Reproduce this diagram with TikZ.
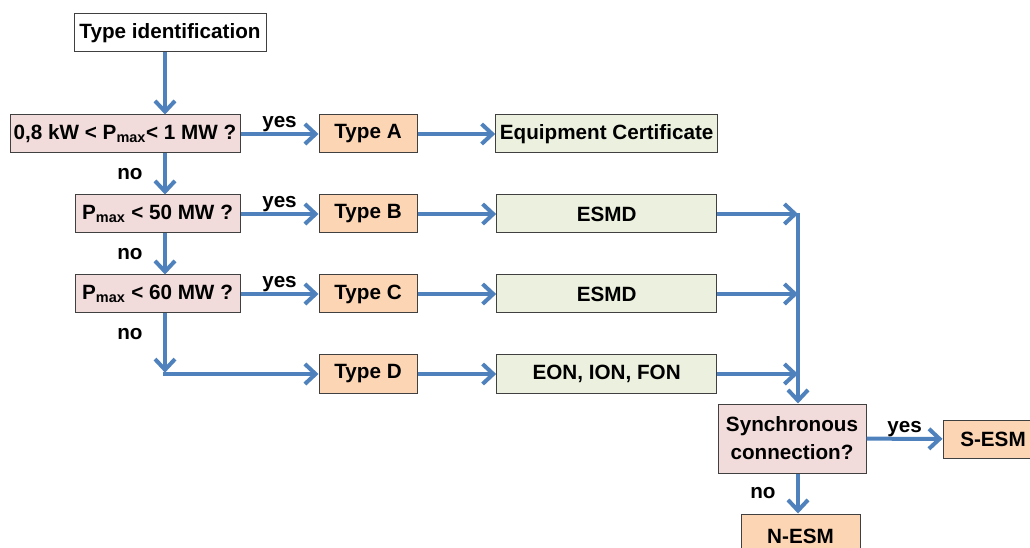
\documentclass[tikz,border=0pt]{standalone}
\usepackage{fontspec}
\setmainfont{Liberation Sans}
\usetikzlibrary{shapes,arrows,arrows.meta}
\usetikzlibrary{positioning}
\definecolor{flowblue}{RGB}{79,129,189}
\definecolor{askpink}{RGB}{242,220,219}
\definecolor{typeorange}{RGB}{252,213,181}
\definecolor{docgreen}{RGB}{235,241,222}
\tikzstyle{box} = [rectangle, draw=black!75, line width=0.75pt, text centered,
    minimum height=28.5pt, inner sep=2pt, font=\fontsize{15.5}{21}\selectfont\bfseries]
\tikzstyle{ask} = [box, fill=askpink]
\tikzstyle{kind} = [box, fill=typeorange, minimum width=73.5pt]
\tikzstyle{doc} = [box, fill=docgreen, minimum width=165pt]
\tikzstyle{flow} = [-{Straight Barb[length=8pt,width=15pt]}, flowblue, line width=3pt]
\tikzstyle{word} = [text=black, font=\fontsize{15.5}{18}\selectfont\bfseries]
\newcommand{\pmax}{P\textsubscript{max}}

\begin{document}
\begin{tikzpicture}[x=0.75pt, y=-0.75pt]
  \useasboundingbox (0,0) rectangle (1030,548);
  % Place nodes
  \node [box, minimum width=144pt] (ident) at (170,33) {Type identification};
  \node [ask, minimum width=172.5pt] (q1) at (125,134) {0,8 kW < \pmax< 1 MW ?};
  \node [ask, minimum width=123.75pt] (q2) at (157.5,214) {\pmax{} < 50 MW ?};
  \node [ask, minimum width=123.75pt, below of=q2, node distance=60pt] (q3) {\pmax{} < 60 MW ?};
  \node [kind] (typeA) at (368,134) {Type A};
  \node [kind, below of=typeA, node distance=60pt] (typeB) {Type B};
  \node [kind, below of=typeB, node distance=60pt] (typeC) {Type C};
  \node [kind, below of=typeC, node distance=60pt] (typeD) {Type D};
  \node [doc, minimum width=166.5pt, right of=typeA, node distance=179pt] (cert) {Equipment Certificate};
  \node [doc, right of=typeB, node distance=179pt] (esmdB) {ESMD};
  \node [doc, right of=typeC, node distance=179pt] (esmdC) {ESMD};
  \node [doc, right of=typeD, node distance=179pt] (eon) {EON, ION, FON};
  \node [ask, minimum width=111pt, minimum height=51.75pt, align=center] (sync) at (792,438.5)
  {Synchronous\\connection?};
  \node [kind, minimum width=75pt] (sesm) at (993,439) {S-ESM};
  \node [kind, minimum width=89.25pt, minimum height=33pt] (nesm) at (800.5,536) {N-ESM};
  \coordinate (col) at (165,0);
  \coordinate (merge) at (798,213);
  % Draw edges
  \draw [flow] (ident.south -| col) -- (q1.north -| col);
  \draw [flow] (q1.south -| col) -- node[word, left, xshift=-12pt]{no} (q2.north -| col);
  \draw [flow] (q2.south -| col) -- node[word, left, xshift=-12pt]{no} (q3.north -| col);
  \draw [flow] (q3.south -| col) -- node[word, left, xshift=-12pt, pos=0.35]{no} ([yshift=1pt]col |- typeD.west);
  \draw [flow] ([xshift=-1.5pt]col |- typeD.west) -- (typeD.west);
  \draw [flow] (q1) -- node[word, above, yshift=-3pt]{yes} (typeA);
  \draw [flow] (q2) -- node[word, above, yshift=-3pt]{yes} (typeB);
  \draw [flow] (q3) -- node[word, above, yshift=-3pt]{yes} (typeC);
  \draw [flow] (typeA) -- (cert);
  \draw [flow] (typeB) -- (esmdB);
  \draw [flow] (typeC) -- (esmdC);
  \draw [flow] (typeD) -- (eon);
  % Merge into the last question
  \draw [flow] (esmdB.east) -- (esmdB.east -| merge);
  \draw [flow] (esmdC.east) -- (esmdC.east -| merge);
  \draw [flow] (eon.east) -- (eon.east -| merge);
  \draw [flow] (merge) -- (sync.north -| merge);
  \draw [flow] (sync) -- node[word, above, yshift=-3pt]{yes} (sesm);
  \draw [flow] (sync.south -| merge) -- node[word, left, xshift=-12pt]{no} (nesm.north -| merge);
\end{tikzpicture}
\end{document}
